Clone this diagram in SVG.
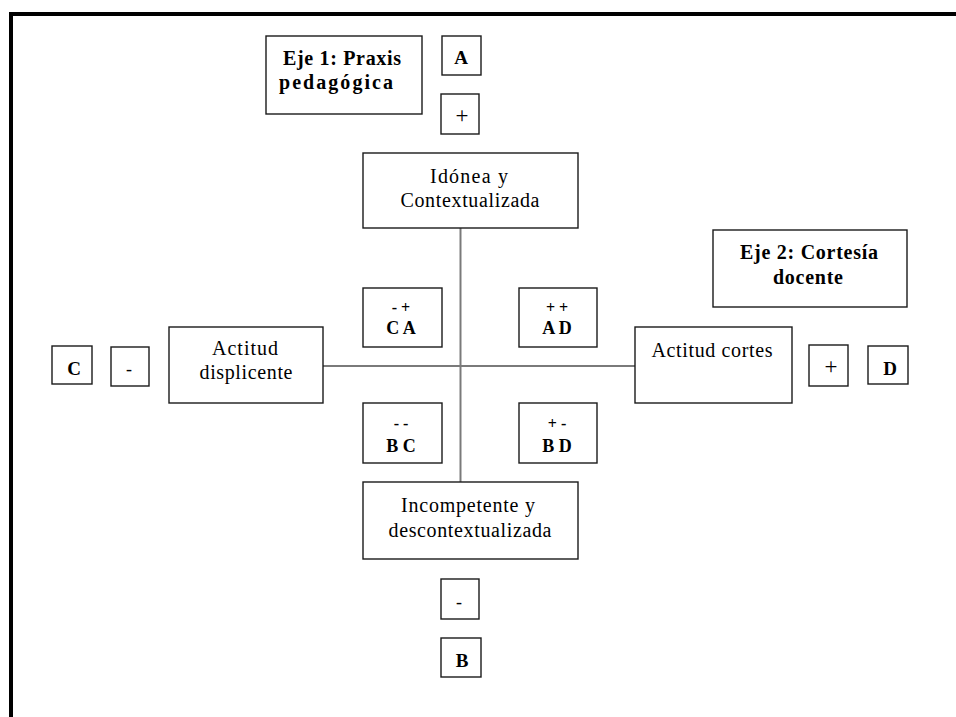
<svg xmlns="http://www.w3.org/2000/svg" width="956" height="717" viewBox="0 0 956 717">
<style>
  .box { fill: #ffffff; stroke: #1a1a1a; stroke-width: 1.4; }
  .axis { stroke: #7a7a7a; stroke-width: 2; fill: none; }
  .frame { stroke: #000000; stroke-width: 4; fill: none; }
  text { font-family: "Liberation Serif", "DejaVu Serif", serif; fill: #000000; text-anchor: middle; }
  .reg { font-size: 20px; }
  .bold { font-size: 20px; font-weight: bold; }
  .letter { font-size: 19px; font-weight: bold; }
  .sign { font-size: 18px; }
  .plus { font-size: 23px; }
  .q1 { font-size: 16px; font-weight: bold; }
  .q2 { font-size: 18px; font-weight: bold; }
</style>
<rect x="0" y="0" width="956" height="717" fill="#ffffff"/>
<path class="frame" d="M11 717 V14 H956"/>

<g id="connectors">
  <line class="axis" x1="460.5" y1="228" x2="460.5" y2="482"/>
  <line class="axis" x1="323" y1="366" x2="635" y2="366"/>
</g>

<g id="eje1">
  <rect class="box" x="266" y="36" width="156" height="78"/>
  <text class="bold" x="342" y="65" textLength="118" lengthAdjust="spacing">Eje 1: Praxis</text>
  <text class="bold" x="336" y="89" textLength="114" lengthAdjust="spacing">pedagógica</text>
</g>
<g id="labelA">
  <rect class="box" x="442" y="36" width="39" height="39"/>
  <text class="letter" x="461" y="64">A</text>
</g>
<g id="plusTop">
  <rect class="box" x="441" y="94" width="38" height="40"/>
  <text class="plus" x="462" y="123">+</text>
</g>
<g id="idonea">
  <rect class="box" x="363" y="153" width="215" height="75"/>
  <text class="reg" x="469" y="183" textLength="78" lengthAdjust="spacing">Idónea y</text>
  <text class="reg" x="470" y="207" textLength="139" lengthAdjust="spacing">Contextualizada</text>
</g>
<g id="eje2">
  <rect class="box" x="713" y="230" width="194" height="77"/>
  <text class="bold" x="809" y="259" textLength="138" lengthAdjust="spacing">Eje 2: Cortesía</text>
  <text class="bold" x="808" y="284" textLength="70" lengthAdjust="spacing">docente</text>
</g>
<g id="quadCA">
  <rect class="box" x="363" y="288" width="79" height="59"/>
  <text class="q1" x="401" y="313">- +</text>
  <text class="q2" x="401" y="334">C A</text>
</g>
<g id="quadAD">
  <rect class="box" x="519" y="288" width="78" height="59"/>
  <text class="q1" x="557" y="313">+ +</text>
  <text class="q2" x="557" y="334">A D</text>
</g>
<g id="quadBC">
  <rect class="box" x="363" y="403" width="79" height="60"/>
  <text class="q1" x="401" y="429">- -</text>
  <text class="q2" x="401" y="452">B C</text>
</g>
<g id="quadBD">
  <rect class="box" x="519" y="403" width="78" height="60"/>
  <text class="q1" x="557" y="429">+ -</text>
  <text class="q2" x="557" y="452">B D</text>
</g>
<g id="labelC">
  <rect class="box" x="52" y="346" width="40" height="38"/>
  <text class="letter" x="74" y="375">C</text>
</g>
<g id="minusLeft">
  <rect class="box" x="111" y="347" width="38" height="39"/>
  <text class="sign" x="129" y="375">-</text>
</g>
<g id="displicente">
  <rect class="box" x="169" y="327" width="154" height="76"/>
  <text class="reg" x="245" y="355" textLength="66" lengthAdjust="spacing">Actitud</text>
  <text class="reg" x="246" y="379" textLength="93" lengthAdjust="spacing">displicente</text>
</g>
<g id="cortes">
  <rect class="box" x="635" y="327" width="157" height="76"/>
  <text class="reg" x="712" y="357" textLength="121" lengthAdjust="spacing">Actitud cortes</text>
</g>
<g id="plusRight">
  <rect class="box" x="809" y="345" width="39" height="41"/>
  <text class="plus" x="831" y="374">+</text>
</g>
<g id="labelD">
  <rect class="box" x="868" y="346" width="40" height="38"/>
  <text class="letter" x="890" y="375">D</text>
</g>
<g id="incompetente">
  <rect class="box" x="363" y="482" width="215" height="77"/>
  <text class="reg" x="468" y="512" textLength="134" lengthAdjust="spacing">Incompetente y</text>
  <text class="reg" x="470" y="537" textLength="163" lengthAdjust="spacing">descontextualizada</text>
</g>
<g id="minusBottom">
  <rect class="box" x="441" y="579" width="38" height="40"/>
  <text class="sign" x="459" y="608">-</text>
</g>
<g id="labelB">
  <rect class="box" x="441" y="638" width="40" height="39"/>
  <text class="letter" x="462" y="667">B</text>
</g>
</svg>
